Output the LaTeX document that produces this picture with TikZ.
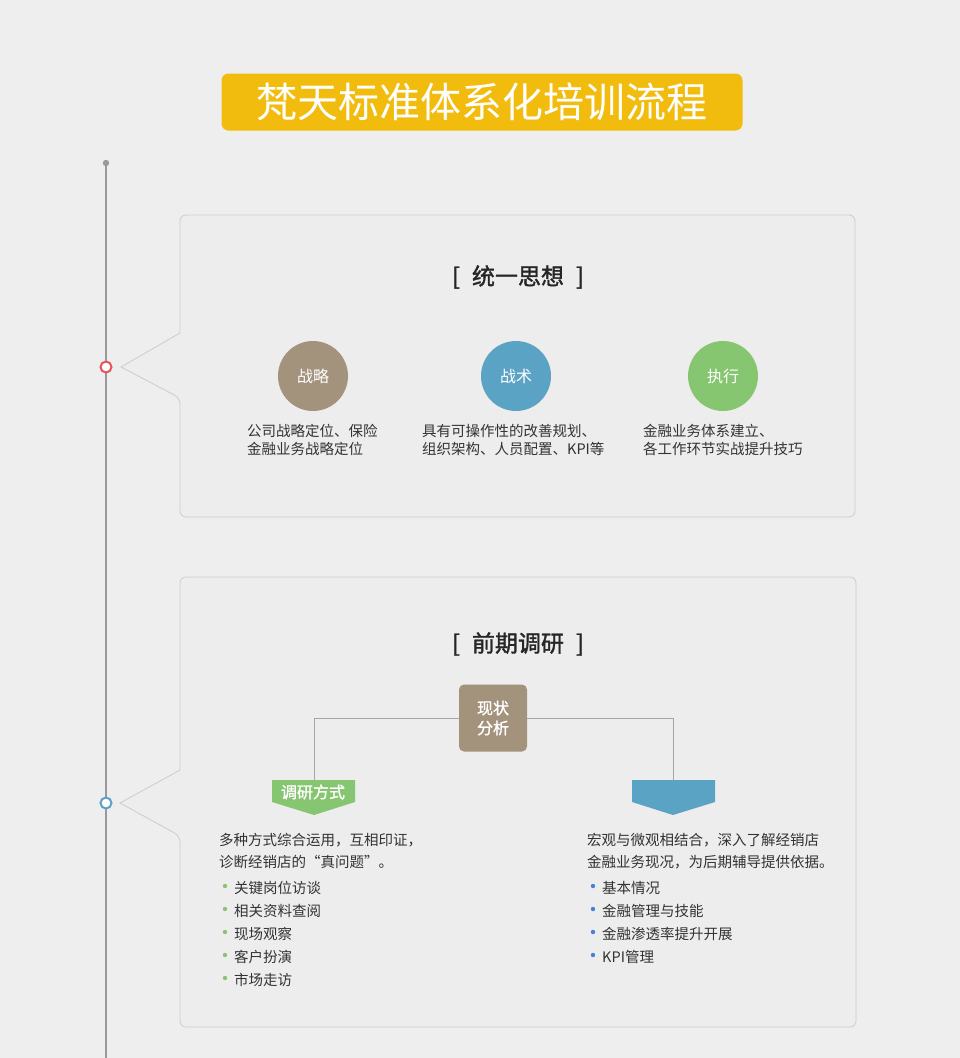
\documentclass[tikz,border=0pt]{standalone}
\usepackage{fontspec}
\setmainfont{Noto Sans CJK SC}
\newfontfamily\cjkb[FakeBold=1.5]{Noto Sans CJK SC}
\begin{document}
\begin{tikzpicture}[x=1pt,y=-1pt,
  bubble/.style={draw=black!20,line width=0.8pt,fill=black!7,rounded corners=6pt},
  circ/.style={circle,minimum size=70pt,inner sep=0pt,text=white,font=\fontsize{16}{16}\selectfont},
  desc/.style={anchor=west,font=\fontsize{14.5}{14.5}\selectfont,text=black!80,inner sep=0pt},
  hd/.style={font=\fontsize{23}{23}\selectfont,text=black!85},
  conn/.style={draw=black!35,line width=1pt}]
\definecolor{bg}{HTML}{EEEEEE}
\definecolor{cbrown}{HTML}{A3927C}
\definecolor{cblue}{HTML}{5BA3C4}
\definecolor{cgreen}{HTML}{86C670}
\definecolor{cred}{HTML}{E8545E}
\definecolor{cyel}{HTML}{F2BC0E}
\fill[bg] (0,0) rectangle (960,1058);
\useasboundingbox (0,0) rectangle (960,1058);
% title
\node[fill=cyel,rounded corners=7pt,minimum width=521pt,minimum height=57pt,text=white,font=\fontsize{41}{41}\selectfont] (title) at (482,102) {梵天标准体系化培训流程};
% timeline
\coordinate (tltop) at (106,163);
\coordinate (tlbot) at (106,1058);
\draw[black!40,line width=2pt] (tltop) -- (tlbot);
\fill[black!40] (tltop) circle (3.2pt);
% bubble 1
\draw[bubble] (180,333) -- (180,215) -- (855,215) -- (855,517) -- (180,517) -- (180,398) [sharp corners]-- (121,367) -- cycle;
\node[draw=cred,fill=white,circle,line width=2pt,minimum size=11pt,inner sep=0pt] (d1) at (106,367) {};
\node[hd] (h1) at (518,277) {\cjkb[\hspace{12pt}统一思想\hspace{12pt}\cjkb]};
\node[circ,fill=cbrown] (c1) at (313,376) {战略};
\node[circ,fill=cblue] (c2) at (516,376) {战术};
\node[circ,fill=cgreen] (c3) at (723,376) {执行};
\node[desc] (t1a) at (247,431) {公司战略定位、保险};
\node[desc] (t1b) at (247,449) {金融业务战略定位};
\node[desc] (t2a) at (422,431) {具有可操作性的改善规划、};
\node[desc] (t2b) at (422,449) {组织架构、人员配置、KPI等};
\node[desc] (t3a) at (643,431) {金融业务体系建立、};
\node[desc] (t3b) at (643,449) {各工作环节实战提升技巧};
% bubble 2
\draw[bubble] (180,770) -- (180,577) -- (856,577) -- (856,1027) -- (180,1027) -- (180,836) [sharp corners]-- (120,803) -- cycle;
\node[draw=cblue,fill=white,circle,line width=2pt,minimum size=11pt,inner sep=0pt] (d2) at (106,803) {};
\node[hd] (h2) at (518,644) {\cjkb[\hspace{12pt}前期调研\hspace{12pt}\cjkb]};
\node[fill=cbrown,rounded corners=5pt,minimum width=68pt,minimum height=67pt,text=white,align=center,font=\cjkb\fontsize{16}{20}\selectfont] (box) at (493,718) {现状\\分析};
\coordinate (pl) at (314,780);
\coordinate (pr) at (673,780);
\draw[conn] (box.west) -| (pl);
\draw[conn] (box.east) -| (pr);
\fill[cgreen] (272,780) -- (355,780) -- (355,802) -- (314,815) -- (272,802) -- cycle;
\node[text=white,font=\cjkb\fontsize{16}{16}\selectfont] (lab1) at (313,792) {调研方式};
\fill[cblue] (632,780) -- (715,780) -- (715,802) -- (673,815) -- (632,802) -- cycle;
\node[desc] (l1) at (219,840) {多种方式综合运用，互相印证，};
\node[desc] (l2) at (219,862) {诊断经销店的“真问题”。};
\foreach \t/\y [count=\i] in {关键岗位访谈/888,相关资料查阅/911,现场观察/934,客户扮演/957,市场走访/980}{
  \fill[cgreen] (225,\y-2) circle (2.2pt);
  \node[desc] (lb\i) at (234,\y) {\t};
}
\node[desc] (r1) at (587,840) {宏观与微观相结合，深入了解经销店};
\node[desc] (r2) at (587,862) {金融业务现况，为后期辅导提供依据。};
\foreach \t/\y [count=\i] in {基本情况/888,金融管理与技能/911,金融渗透率提升开展/934,KPI管理/957}{
  \fill[cblue!80!blue] (593,\y-2) circle (2.2pt);
  \node[desc] (rb\i) at (602,\y) {\t};
}
\end{tikzpicture}
\end{document}
